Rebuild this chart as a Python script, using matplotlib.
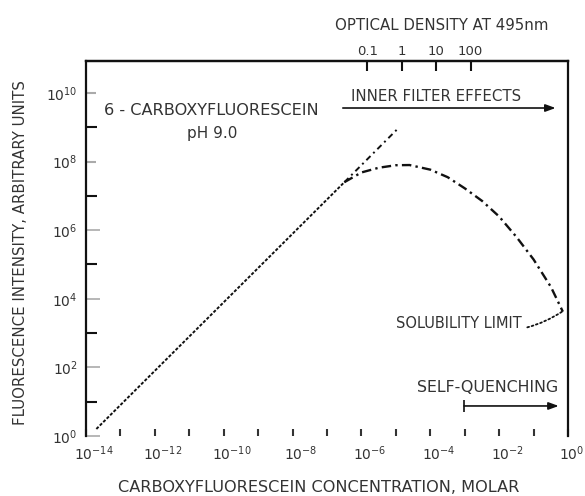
import numpy as np
import matplotlib
matplotlib.use("Agg")
import matplotlib.pyplot as plt
from matplotlib.transforms import ScaledTranslation

# ---------------- data ----------------
# measured linear region (intensity proportional to concentration)
conc_line = [2.0e-14, 3.2e-7]
intens_line = [1.6e0, 2.5e7]
# linear extrapolation beyond the measured range
conc_extrap = [3.2e-7, 1.07e-5]
intens_extrap = [2.5e7, 8.5e8]
# observed curve (inner filter + self-quenching)
conc_curve = [3.2e-7, 1.0e-6, 3.2e-6, 1.0e-5, 2.5e-5, 1.0e-4, 3.2e-4, 1.0e-3,
              3.2e-3, 1.0e-2, 3.2e-2, 0.1, 0.32, 0.71]
intens_curve = [2.5e7, 4.8e7, 6.6e7, 7.8e7, 7.9e7, 5.8e7, 3.5e7, 1.66e7,
                7.1e6, 2.5e6, 6.3e5, 1.4e5, 2.2e4, 4.2e3]

x_major = [1e-14, 1e-12, 1e-10, 1e-8, 1e-6, 1e-4, 1e-2, 1e0]
x_labels = [r"$10^{-14}$", r"$10^{-12}$", r"$10^{-10}$", r"$10^{-8}$",
            r"$10^{-6}$", r"$10^{-4}$", r"$10^{-2}$", r"$10^{0}$"]
x_minor = [1e-13, 1e-11, 1e-9, 1e-7, 1e-5, 1e-3, 1e-1]
y_major = [1e0, 1e2, 1e4, 1e6, 1e8, 1e10]
y_labels = [r"$10^{0}$", r"$10^{2}$", r"$10^{4}$", r"$10^{6}$", r"$10^{8}$", r"$10^{10}$"]
y_minor = [1e1, 1e3, 1e5, 1e7, 1e9]
od_ticks = [0.1, 1, 10, 100]
od_labels = ["0.1", "1", "10", "100"]
od_per_molar = 10 ** 4.83   # optical density per molar (1 cm path)

# annotation anchors (data coords)
title_pos = (10 ** -10.37, 10 ** 9.50)
ph_pos = (10 ** -10.34, 10 ** 8.83)
inner_text_pos = (10 ** -3.83, 10 ** 9.90)
inner_arrow = ((10 ** -6.54, 10 ** 9.56), (10 ** -0.36, 10 ** 9.56))
sol_text_pos = (10 ** -1.34, 10 ** 3.29)
sol_point = (0.70, 4.3e3)
sq_text_pos = (10 ** -2.35, 10 ** 1.42)
sq_arrow = ((10 ** -3.02, 10 ** 0.875), (10 ** -0.27, 10 ** 0.875))

TXT = "#333333"
INK = "#111111"

fig = plt.figure(figsize=(5.85, 4.96), dpi=100)
ax = fig.add_axes([0.1470, 0.1210, 0.8239, 0.7560])
ax.set_xscale("log")
ax.set_yscale("log")
ax.set_xlim(1e-14, 1e0)
ax.set_ylim(1e0, 10 ** 10.93)

ax.plot(conc_line, intens_line, color=INK, lw=1.4, ls=(0, (1.6, 0.9)))
ax.plot(conc_extrap, intens_extrap, color=INK, lw=1.4, ls=(0, (3, 2, 1, 2)))
ax.plot(conc_curve, intens_curve, color=INK, lw=1.7, ls=(0, (4, 1.8, 1, 1.8)))

# spines
for s in ["left", "top", "right"]:
    ax.spines[s].set_linewidth(1.6)
    ax.spines[s].set_color(INK)
ax.spines["bottom"].set_visible(False)

# x ticks
ax.set_xticks(x_major)
ax.set_xticklabels(x_labels)
ax.set_xticks(x_minor, minor=True)
ax.xaxis.set_minor_formatter(plt.NullFormatter())
ax.tick_params(axis="x", which="both", direction="in", length=5, width=1.5,
               color="#333333", pad=6, labelsize=10, labelcolor=TXT, top=False)
xlabs = ax.get_xticklabels()
for i, lab in enumerate(xlabs):
    dx = 4 if i == len(xlabs) - 1 else 8
    lab.set_transform(lab.get_transform() + ScaledTranslation(dx / 100, 0, fig.dpi_scale_trans))

# y ticks
ax.set_yticks(y_major)
ax.set_yticklabels(y_labels)
ax.set_yticks(y_minor, minor=True)
ax.yaxis.set_minor_formatter(plt.NullFormatter())
ax.tick_params(axis="y", which="major", direction="in", length=10, width=1.2,
               color="#aaaaaa", pad=6, labelsize=10, labelcolor=TXT, right=False)
ax.tick_params(axis="y", which="minor", direction="in", length=8, width=1.5,
               color=INK, right=False)
for t, v in zip(ax.yaxis.get_major_ticks(), y_major):
    if v >= 1e8:
        t.tick1line.set_color(INK)
        t.tick1line.set_markeredgewidth(1.5)
        t.tick1line.set_markersize(7)

# top optical density axis
sec = ax.secondary_xaxis("top", functions=(lambda c: c * od_per_molar,
                                           lambda od: od / od_per_molar))
sec.set_xticks(od_ticks)
sec.set_xticklabels(od_labels)
sec.xaxis.set_minor_locator(plt.NullLocator())
sec.tick_params(axis="x", direction="in", length=7, width=1.5, color=INK,
                pad=2, labelsize=9.5, labelcolor=TXT)
sec.spines["top"].set_linewidth(1.6)
fig.text(442 / 585, 1 - 25 / 496, "OPTICAL DENSITY AT 495nm", fontsize=10.8,
         color=TXT, ha="center", va="center")

ax.set_xlabel("CARBOXYFLUORESCEIN CONCENTRATION, MOLAR", fontsize=11.6,
              color=TXT)
ax.xaxis.set_label_coords(0.482, -44 / 375.0)
ax.set_ylabel("FLUORESCENCE INTENSITY, ARBITRARY UNITS", fontsize=10.8,
              color=TXT)
ax.yaxis.set_label_coords(-58 / 482.0, 0.49)

# annotations
ax.text(*title_pos, "6 - CARBOXYFLUORESCEIN", fontsize=11.6, color=TXT,
        ha="center", va="center")
ax.text(*ph_pos, "pH 9.0", fontsize=11, color=TXT, ha="center", va="center")
ax.text(*inner_text_pos, "INNER FILTER EFFECTS", fontsize=10.8, color=TXT,
        ha="center", va="center")
ax.annotate("", xy=inner_arrow[1], xytext=inner_arrow[0],
            arrowprops=dict(arrowstyle="-|>,head_length=0.6,head_width=0.22",
                            color=INK, lw=1.2, shrinkA=0, shrinkB=0))
ax.annotate("SOLUBILITY LIMIT", xy=sol_point, xytext=sol_text_pos,
            fontsize=10.5, color=TXT, ha="right", va="center",
            arrowprops=dict(arrowstyle="-", color=INK, lw=1.3, ls=(0, (1, 1.5)),
                            connectionstyle="arc3,rad=0.25", shrinkA=2, shrinkB=0))
ax.text(*sq_text_pos, "SELF-QUENCHING", fontsize=11.4, color=TXT,
        ha="center", va="center")
ax.annotate("", xy=sq_arrow[1], xytext=sq_arrow[0],
            arrowprops=dict(arrowstyle="-|>,head_length=0.6,head_width=0.22",
                            color=INK, lw=1.2, shrinkA=0, shrinkB=0))
ax.plot([sq_arrow[0][0]], [sq_arrow[0][1]], marker="|", ms=9, mew=1.2, color=INK)

fig.savefig("out.png", dpi=100)
